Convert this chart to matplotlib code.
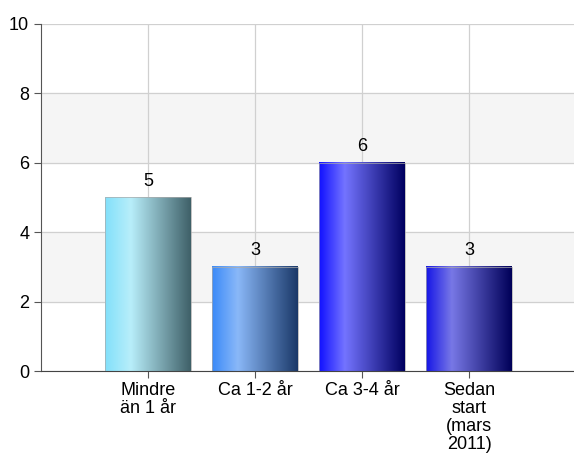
import numpy as np
import matplotlib
matplotlib.use("Agg")
import matplotlib.pyplot as plt
from matplotlib.colors import LinearSegmentedColormap

plt.rcParams['font.family'] = ['Liberation Sans', 'DejaVu Sans']

categories = ["Mindre\nän 1 år", "Ca 1-2 år", "Ca 3-4 år", "Sedan\nstart\n(mars\n2011)"]
values = [5, 3, 6, 3]

# left, highlight, right colours of each bar's gradient
bar_colors = [
    ("#82e0fa", "#b8eefa", "#3f6068"),
    ("#3a8af8", "#8ab8f8", "#1a3868"),
    ("#1010ff", "#7474ff", "#000060"),
    ("#1515e6", "#7878e6", "#000058"),
]

fig = plt.figure(figsize=(5.74, 4.58), dpi=100)
ax = fig.add_axes([41/574, 87/458, 533/574, 347/458])

# alternating bands
for lo in (2, 6):
    ax.axhspan(lo, lo + 2, color="#f5f5f5", zorder=0)

ax.set_ylim(0, 10)
ax.set_xlim(-1, 3.98)
ax.set_yticks(range(0, 11, 2))
ax.set_xticks(range(len(categories)))
ax.set_xticklabels(categories, fontsize=13, linespacing=1.08)
ax.tick_params(axis='y', labelsize=13, length=5, color="#555555")
ax.tick_params(axis='x', length=5, color="#555555", pad=3)
ax.grid(True, color="#d0d0d0", linewidth=0.9, zorder=1)
ax.set_axisbelow(True)

for s in ("top", "right"):
    ax.spines[s].set_visible(False)
ax.spines["left"].set_color("#555555")
ax.spines["bottom"].set_color("#444444")

width = 0.8
grad = np.linspace(0, 1, 256).reshape(1, -1)
for i, (v, cols) in enumerate(zip(values, bar_colors)):
    cmap = LinearSegmentedColormap.from_list("b%d" % i, [(0, cols[0]), (0.3, cols[1]), (1, cols[2])])
    x0 = i - width / 2
    ax.imshow(grad, cmap=cmap, aspect="auto", extent=(x0, x0 + width, 0, v), zorder=2)
    ax.add_patch(plt.Rectangle((x0, 0), width, v, fill=False, edgecolor="#aaaaaa", linewidth=0.5, zorder=3))
    ax.text(i, v + 0.22, str(v), ha="center", va="bottom", fontsize=13, zorder=4)

ax.set_xlim(-1, 3.98)
ax.set_ylim(0, 10)

fig.savefig("out.png", dpi=100)
